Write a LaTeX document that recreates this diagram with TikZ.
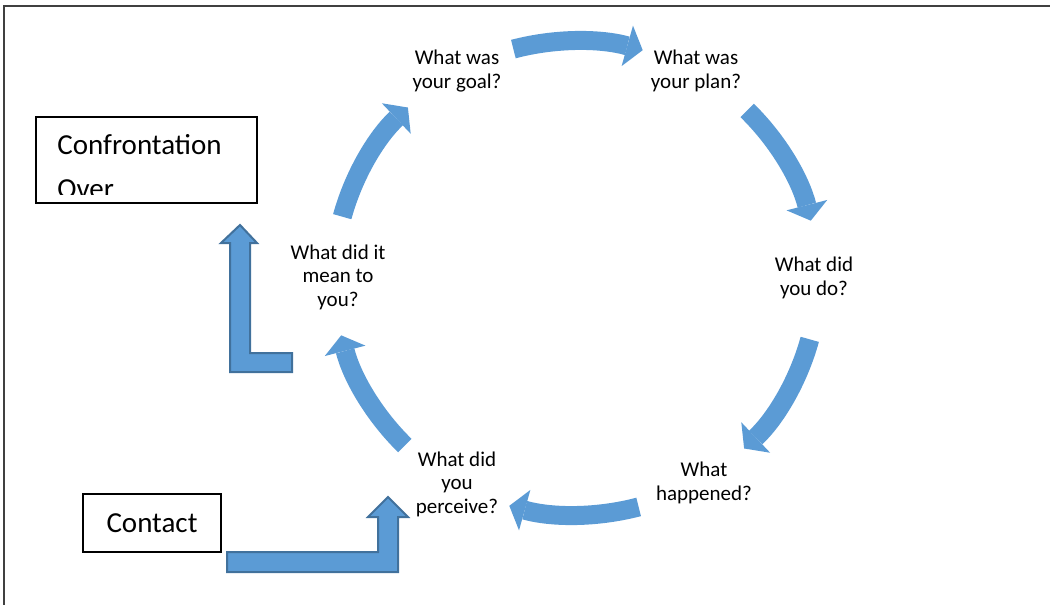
\documentclass[tikz,border=0pt]{standalone}
\usepackage{fontspec}
\setmainfont{Carlito}
\usetikzlibrary{arrows.meta,calc}
\definecolor{cycleblue}{HTML}{5B9BD5}
\definecolor{cycleedge}{HTML}{41719C}

\begin{document}
\begin{tikzpicture}[x=0.5pt,y=-0.5pt,
	question/.style={align=center,font=\fontsize{10.5}{11.8}\selectfont,inner sep=0pt},
	cyclearrow/.style={cycleblue,line width=9.5pt,-{Triangle[length=8pt,width=21pt,line width=0pt]}},
	bentarrow/.style={draw=cycleedge,fill=cycleblue,line width=1pt,line join=miter},
	outcome/.style={draw,line width=0.6pt,inner sep=0pt,font=\fontsize{14.5}{21}\selectfont}]
	\useasboundingbox (0,0) rectangle (1050,605);
	\draw[black!75,line width=0.8pt] (4,605) -- (4,6) -- (1050,6);
	\coordinate (c) at (576,278);
	\node[question] (goal) at (457,71) {What was\\your goal?};
	\node[question] (plan) at (696,71) {What was\\your plan?};
	\node[question] (do) at (814,278) {What did\\you do?};
	\node[question] (happened) at (704,483) {What\\happened?};
	\node[question] (perceive) at (457,484) {What did\\you\\perceive?};
	\node[question] (mean) at (338,277) {What did it\\mean to\\you?};
	\foreach \a in {195,255,315,375,435,495}
		\draw[cyclearrow] ($(c)+(\a:242 and 237)$) arc[start angle=\a,end angle=\a+31,x radius=242,y radius=237];
	\node[outcome,minimum width=110.5pt,minimum height=43pt] (over) at (146.5,160) {};
	\begin{scope}
		\clip ($(over.north west)+(1,1)$) rectangle ($(over.south east)+(-1,-9.5)$);
		\node[anchor=north west,align=left,inner sep=0pt,font=\fontsize{14.5}{21.8}\selectfont] (overtext) at (57,134) {Confrontation\\Over};
	\end{scope}
	\node[outcome,minimum width=69pt,minimum height=29pt] (contact) at (152,523) {Contact\hspace{3pt}};
	\draw[bentarrow] (292,353) -- (250,353) -- (250,243) -- (257,243) -- (240,225) -- (221,243) -- (230,243) -- (230,372) -- (292,372) -- cycle;
	\draw[bentarrow] (227,552) -- (378,552) -- (378,517) -- (368,517) -- (388,497) -- (408,517) -- (398,517) -- (398,572) -- (227,572) -- cycle;
\end{tikzpicture}
\end{document}
